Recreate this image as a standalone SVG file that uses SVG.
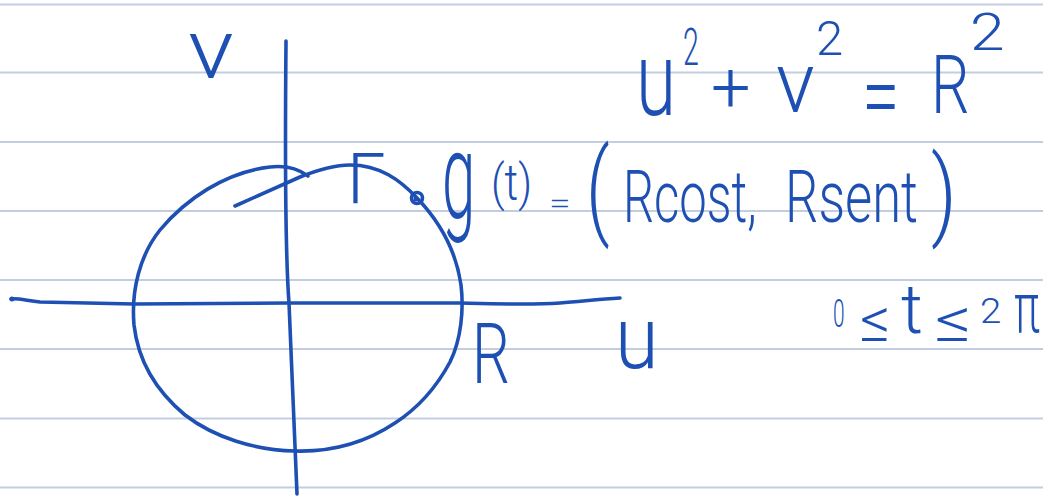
<svg xmlns="http://www.w3.org/2000/svg" width="1043" height="497" viewBox="0 0 1043 497">
<style>
.rule{stroke:#c3cde0;stroke-width:2;fill:none}
.ink{stroke:#1e50b4;stroke-width:3.6;fill:none;stroke-linecap:round;stroke-linejoin:round}
.t{font-family:Roboto,"Liberation Sans",sans-serif;font-weight:300;fill:#1e50b4}
</style>
<rect width="1043" height="497" fill="#ffffff"/>
<g id="paper">
<line class="rule" x1="0" y1="4.5" x2="1043" y2="4.5"/>
<line class="rule" x1="0" y1="72.5" x2="1043" y2="72.5"/>
<line class="rule" x1="0" y1="142" x2="1043" y2="142"/>
<line class="rule" x1="0" y1="211" x2="1043" y2="211"/>
<line class="rule" x1="0" y1="280" x2="1043" y2="280"/>
<line class="rule" x1="0" y1="349" x2="1043" y2="349"/>
<line class="rule" x1="0" y1="418.5" x2="1043" y2="418.5"/>
<line class="rule" x1="0" y1="487.5" x2="1043" y2="487.5"/>
</g>
<g id="axes">
<path class="ink" d="M286,41 C285,150 285,250 289,303 C292,380 295,440 297,494"/>
<path class="ink" d="M11,299 C16,298 24,300 40,302 L134,304 L289,303 L460,303 C500,304 530,305 560,303 C585,301 600,299 620,298"/>
<circle cx="12" cy="299" r="2.5" fill="#1e50b4"/>
</g>
<g id="curve">
<path class="ink" d="M235,206 L300,177 C320,169 335,165 350,165 C380,165 400,180 417,198 C440,222 456,250 461,285 C464,310 461,340 450,362 C435,390 415,410 395,423 C365,443 330,452 295,451 C255,450 215,438 185,415 C155,390 138,360 134,325 C131,290 140,255 160,230 C185,200 225,172 270,167 C288,165 300,170 308,176"/>
<circle class="ink" cx="417" cy="198" r="5.5"/>
<circle cx="416" cy="199" r="2.5" fill="#1e50b4"/>
</g>
<g id="labels">
<text class="t" transform="matrix(1.15 0 0 1 188 78)" font-size="83">v</text>
<text class="t" transform="matrix(0.72 0 0 1 472 383)" font-size="83">R</text>
<text class="t" transform="matrix(0.9 0 0 1 615 368)" font-size="88">u</text>
<text class="t" transform="matrix(1 0 0 1 347 203)" font-size="70">Γ</text>
</g>
<g id="equation">
<text class="t" transform="matrix(0.7 0 0 1 636 115)" font-size="104">u</text>
<text class="t" transform="matrix(0.55 0 0 1 683 65)" font-size="52">2</text>
<text class="t" transform="matrix(1 0 0 1 711 112)" font-size="70">+</text>
<text class="t" transform="matrix(0.95 0 0 1 776 112)" font-size="85">v</text>
<text class="t" transform="matrix(1 0 0 1 816 55)" font-size="49">2</text>
<text class="t" transform="matrix(0.7 0 0 1 862 129)" font-size="97">=</text>
<text class="t" transform="matrix(0.75 0 0 1 931 113)" font-size="81">R</text>
<text class="t" transform="matrix(1.2 0 0 1 970 50)" font-size="52">2</text>
</g>
<g id="param">
<text class="t" transform="matrix(0.5 0 0 1 442 218)" font-size="120">g</text>
<text class="t" transform="matrix(0.85 0 0 1 491 200)" font-size="50">(t)</text>
<text class="t" transform="matrix(1.4 0 0 1 549 213)" font-size="28">=</text>
<text class="t" transform="matrix(0.7 0 0 1 586 225)" font-size="106">(</text>
<text class="t" transform="matrix(0.68 0 0 1 623 222)" font-size="72">Rcost,</text>
<text class="t" transform="matrix(0.73 0 0 1 785 222)" font-size="72">Rsent</text>
<text class="t" transform="matrix(0.8 0 0 1 931 227)" font-size="99">)</text>
</g>
<g id="range">
<text class="t" transform="matrix(0.55 0 0 1 833 327)" font-size="38">0</text>
<text class="t" transform="matrix(1 0 0 1 860 341)" font-size="60">≤</text>
<text class="t" transform="matrix(1 0 0 1 901 333)" font-size="68">t</text>
<text class="t" transform="matrix(1.2 0 0 1 935 341)" font-size="60">≤</text>
<text class="t" transform="matrix(1.1 0 0 1 980 323)" font-size="35">2</text>
<text class="t" transform="matrix(0.62 0 0 1 1014 332)" font-size="70">π</text>
</g>
</svg>
